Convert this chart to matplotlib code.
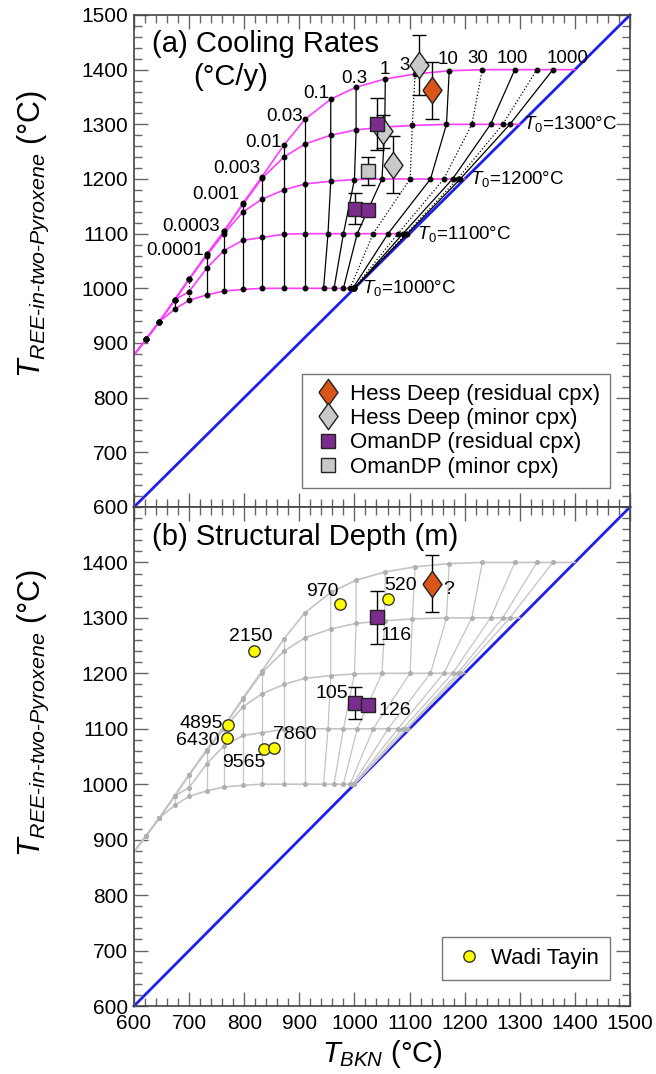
import matplotlib
matplotlib.use("Agg")
import matplotlib.pyplot as plt
from matplotlib.lines import Line2D
from matplotlib.ticker import MultipleLocator

plt.rcParams['font.family'] = 'Liberation Sans'
plt.rcParams['mathtext.fontset'] = 'custom'
plt.rcParams['mathtext.rm'] = 'Liberation Sans'
plt.rcParams['mathtext.it'] = 'Liberation Sans:italic'
plt.rcParams['mathtext.bf'] = 'Liberation Sans:bold'

# cooling model grid, one row per initial temperature T0, one column per cooling rate (degC/y)
t0s = [1000, 1100, 1200, 1300, 1400]
rates = ['1e-6', '3e-6', '1e-5', '3e-5', '0.0001', '0.0003', '0.001', '0.003', '0.01', '0.03',
         '0.1', '0.3', '1', '3', '10', '30', '100', '300', '1000']
gridBKN = [
    [622, 646, 674, 700, 732, 763, 798, 832, 872, 910, 944, 963, 980, 992, 997, 999, 1000, 1000, 1000],
    [622, 646, 674, 700, 732, 763, 798, 832, 872, 910, 952, 980, 1005, 1034, 1061, 1079, 1088, 1094, 1096],
    [622, 646, 674, 700, 732, 763, 798, 832, 872, 910, 957, 1000, 1050, 1101, 1138, 1162, 1178, 1187, 1192],
    [622, 646, 674, 700, 732, 763, 798, 832, 872, 910, 957, 1003, 1055, 1105, 1167, 1213, 1247, 1269, 1282],
    [622, 646, 674, 700, 732, 763, 798, 832, 872, 910, 957, 1003, 1056, 1110, 1172, 1232, 1291, 1331, 1360],
]
gridREE = [
    [907, 939, 962, 978, 988, 995, 998, 1000, 1000, 1000, 1000, 1000, 1000, 1000, 1000, 1000, 1000, 1000, 1000],
    [907, 939, 979, 994, 1037, 1069, 1088, 1093, 1099, 1100, 1100, 1100, 1100, 1100, 1100, 1100, 1100, 1100, 1100],
    [907, 939, 979, 1017, 1060, 1100, 1140, 1163, 1180, 1191, 1196, 1199, 1200, 1200, 1200, 1200, 1200, 1200, 1200],
    [907, 939, 979, 1017, 1062, 1104, 1154, 1201, 1240, 1264, 1280, 1290, 1295, 1298, 1300, 1300, 1300, 1300, 1300],
    [907, 939, 979, 1017, 1062, 1104, 1156, 1204, 1262, 1309, 1346, 1368, 1383, 1392, 1398, 1400, 1400, 1400, 1400],
]
curveStart = (600, 878)

# rate labels (shown ones) and where the text sits
rateText = ['0.0001', '0.0003', '0.001', '0.003', '0.01', '0.03', '0.1', '0.3', '1', '3', '10', '30', '100', '1000']
rateTextX = [727, 756, 792, 829, 868, 907, 954, 999, 1055, 1091, 1169, 1223, 1286, 1386]
rateTextY = [1070, 1113, 1171, 1220, 1266, 1314, 1357, 1384, 1401, 1408, 1418, 1421, 1421, 1421]
rateTextHa = ['right'] * 7 + ['center'] * 7
t0TextX = [1013, 1114, 1210, 1306]

# samples
hdResBKN = [1141]
hdResREE = [1362]
hdResErr = [52]
hdMinBKN = [1118, 1051, 1070]
hdMinREE = [1408, 1287, 1226]
hdMinErr = [55, 30, 52]
omResBKN = [1041.5, 1001.6, 1025]
omResREE = [1301, 1146, 1143]
omResErr = [48, 29, 10]
omResDepth = ['116', '105', '126']
omMinBKN = [1024]
omMinREE = [1215]
omMinErr = [26]

wtDepth = ['970', '520', '2150', '4895', '6430', '9565', '7860']
wtBKN = [974, 1060, 818, 770, 768, 835, 854]
wtREE = [1325, 1334, 1240, 1107, 1083, 1063, 1066]
wtTextX = [971, 1083, 811, 761, 755, 799, 852]
wtTextY = [1347, 1358, 1267, 1109, 1079, 1039, 1090]
wtTextHa = ['right', 'center', 'center', 'right', 'right', 'center', 'left']
omTextX = [1048, 989, 1043]
omTextY = [1269, 1163, 1133]
omTextHa = ['left', 'right', 'left']

orange = '#DC5518'
grey = '#C9C9C9'
purple = '#7A2D8C'
magenta = '#FF3CFF'
thinDiamond = [(-0.72, 0), (0, 1), (0.72, 0), (0, -1), (-0.72, 0)]


def styleAxis(ax):
    ax.set_xlim(600, 1500)
    ax.set_ylim(600, 1500)
    ax.xaxis.set_major_locator(MultipleLocator(100))
    ax.xaxis.set_minor_locator(MultipleLocator(20))
    ax.yaxis.set_major_locator(MultipleLocator(100))
    ax.yaxis.set_minor_locator(MultipleLocator(20))
    ax.tick_params(which='both', direction='in', top=True, right=True, color='#666666', width=1, labelsize=15)
    ax.tick_params(which='major', length=10, pad=4)
    ax.tick_params(axis='x', which='major', pad=6)
    ax.tick_params(which='minor', length=5.5)
    for s in ax.spines.values():
        s.set_color('#444444')
        s.set_linewidth(1.2)
    ax.plot([600, 1500], [600, 1500], color='#1E1EF0', lw=2, zorder=1, clip_on=False)


def drawGrid(ax, curveColor, rateColor, dotColor, dotSize, dotted):
    for i, t0 in enumerate(t0s):
        xs = [curveStart[0]] + gridBKN[i] + [t0]
        ys = [curveStart[1]] + gridREE[i] + [t0]
        ax.plot(xs, ys, color=curveColor, lw=1.2, zorder=2)
    for j, r in enumerate(rates):
        xs = [gridBKN[i][j] for i in range(len(t0s))]
        ys = [gridREE[i][j] for i in range(len(t0s))]
        ls = ':' if (dotted and r.startswith('3')) else '-'
        ax.plot(xs, ys, color=rateColor, lw=0.9, ls=ls, zorder=1.5)
    for i in range(len(t0s)):
        ax.plot(gridBKN[i], gridREE[i], ls='none', marker='o', ms=dotSize, color=dotColor, zorder=3)


def errPoints(ax, xs, ys, errs, marker, ms, color, zo):
    ax.errorbar(xs, ys, yerr=errs, fmt='none', ecolor='black', elinewidth=1, capsize=5, capthick=1, zorder=zo)
    ax.plot(xs, ys, ls='none', marker=marker, ms=ms, mfc=color, mec='#222222', mew=1, zorder=zo + 0.5)


fig = plt.figure(figsize=(6.56, 10.74), dpi=100)
ax1 = fig.add_axes([134 / 656, 1 - 507 / 1074, 496 / 656, 492 / 1074])
ax2 = fig.add_axes([134 / 656, 1 - 1006 / 1074, 496 / 656, 499 / 1074])

# ---- (a) cooling rates
styleAxis(ax1)
ax1.tick_params(labelbottom=False)
drawGrid(ax1, magenta, 'black', 'black', 3.2, True)
for k, txt in enumerate(rateText):
    ax1.text(rateTextX[k], rateTextY[k], txt, ha=rateTextHa[k], va='center', fontsize=13.5)
for k, t0 in enumerate(t0s[:4]):
    ax1.text(t0TextX[k], t0, r'$T_0$=%d°C' % t0, ha='left', va='center', fontsize=13.5)

errPoints(ax1, hdMinBKN, hdMinREE, hdMinErr, thinDiamond, 19, grey, 5)
errPoints(ax1, hdResBKN, hdResREE, hdResErr, thinDiamond, 19, orange, 6)
errPoints(ax1, omMinBKN, omMinREE, omMinErr, 's', 10.5, grey, 7)
errPoints(ax1, omResBKN, omResREE, omResErr, 's', 10.5, purple, 8)

ax1.text(0.036, 0.941, '(a) Cooling Rates', transform=ax1.transAxes, fontsize=21, ha='left', va='center')
ax1.text(0.195, 0.873, '(°C/y)', transform=ax1.transAxes, fontsize=21, ha='center', va='center')

handles = [
    Line2D([], [], ls='none', marker=thinDiamond, ms=19, mfc=orange, mec='#222222'),
    Line2D([], [], ls='none', marker=thinDiamond, ms=19, mfc=grey, mec='#222222'),
    Line2D([], [], ls='none', marker='s', ms=10.5, mfc=purple, mec='#222222'),
    Line2D([], [], ls='none', marker='s', ms=10.5, mfc=grey, mec='#222222'),
]
labels = ['Hess Deep (residual cpx)', 'Hess Deep (minor cpx)', 'OmanDP (residual cpx)', 'OmanDP (minor cpx)']
leg = ax1.legend(handles, labels, loc='lower right', bbox_to_anchor=(0.96, 0.039), borderaxespad=0,
                 fontsize=16, labelspacing=0.15, handletextpad=0.3, handlelength=1.4,
                 fancybox=False, framealpha=1, edgecolor='#777777', borderpad=0.45)
leg.get_frame().set_linewidth(1)

ax1.set_ylabel(r'$T_{REE\text{-}in\text{-}two\text{-}Pyroxene}$ (°C)', fontsize=22)
ax1.yaxis.set_label_coords(-0.168, 0.555)

# ---- (b) structural depth
styleAxis(ax2)
ax2.set_yticks([600, 700, 800, 900, 1000, 1100, 1200, 1300, 1400])
drawGrid(ax2, '#C4C4C4', '#C4C4C4', '#B0B0B0', 2.6, False)

errPoints(ax2, hdResBKN, hdResREE, hdResErr, thinDiamond, 19, orange, 6)
ax2.text(1162, 1352, '?', fontsize=14, ha='left', va='center')
errPoints(ax2, omResBKN, omResREE, omResErr, 's', 10.5, purple, 8)
for k, txt in enumerate(omResDepth):
    ax2.text(omTextX[k], omTextY[k], txt, ha=omTextHa[k], va='center', fontsize=14)
ax2.plot(wtBKN, wtREE, ls='none', marker='o', ms=8.2, mfc='#FFFF00', mec='#333333', mew=1, zorder=9)
for k, txt in enumerate(wtDepth):
    ax2.text(wtTextX[k], wtTextY[k], txt, ha=wtTextHa[k], va='center', fontsize=14)

ax2.text(0.036, 0.94, '(b) Structural Depth (m)', transform=ax2.transAxes, fontsize=21, ha='left', va='center')

leg2 = ax2.legend([Line2D([], [], ls='none', marker='o', ms=8.2, mfc='#FFFF00', mec='#333333')], ['Wadi Tayin'],
                  loc='lower right', bbox_to_anchor=(0.96, 0.052), borderaxespad=0, fontsize=16,
                  handletextpad=0.3, handlelength=1.4, fancybox=False, framealpha=1, edgecolor='#777777', borderpad=0.5)
leg2.get_frame().set_linewidth(1)

ax2.set_ylabel(r'$T_{REE\text{-}in\text{-}two\text{-}Pyroxene}$ (°C)', fontsize=22)
ax2.yaxis.set_label_coords(-0.168, 0.587)
ax2.set_xlabel(r'$T_{BKN}$ (°C)', fontsize=21)
ax2.xaxis.set_label_coords(0.5, -0.064)

fig.savefig('out.png', dpi=100)
